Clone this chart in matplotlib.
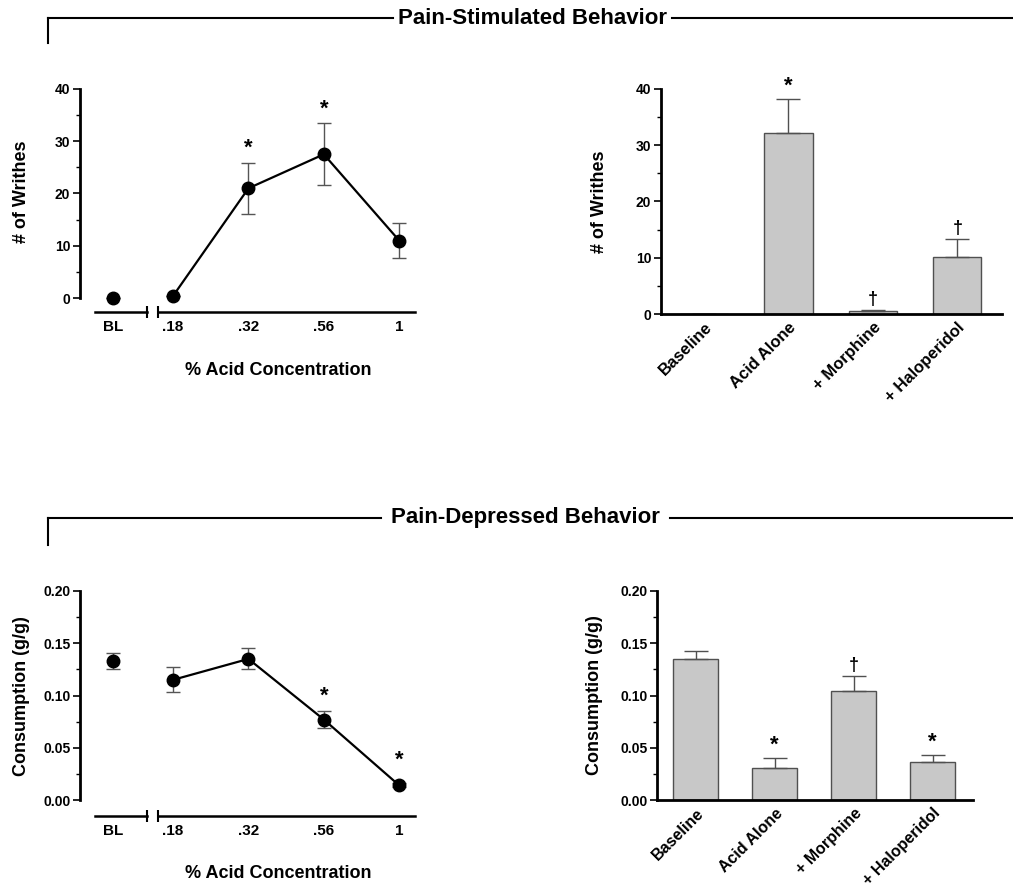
import matplotlib.pyplot as plt
from matplotlib.lines import Line2D
from matplotlib.ticker import MultipleLocator

plt.rcParams['font.family'] = ['Liberation Sans', 'DejaVu Sans']
plt.rcParams['font.weight'] = 'bold'

# dose-effect data (x position index for each concentration)
conc_labels = ['BL', '.18', '.32', '.56', '1']
conc_pos = [-0.8, 0, 1, 2, 3]

writhes = [0.0, 0.4, 21.0, 27.5, 11.0]
writhes_err = [0.0, 0.0, 4.9, 5.9, 3.4]
writhes_star = [False, False, True, True, False]

consumption = [0.133, 0.115, 0.135, 0.077, 0.014]
consumption_err = [0.008, 0.012, 0.010, 0.008, 0.002]
consumption_star = [False, False, False, True, True]

# treatment bar data
groups = ['Baseline', 'Acid Alone', '+ Morphine', '+ Haloperidol']
bar_writhes = [0.0, 32.2, 0.5, 10.1]
bar_writhes_err = [0.0, 6.1, 0.2, 3.2]
bar_writhes_mark = ['', '*', '\u2020', '\u2020']
bar_cons = [0.135, 0.031, 0.104, 0.036]
bar_cons_err = [0.008, 0.009, 0.015, 0.007]
bar_cons_mark = ['', '*', '\u2020', '*']

W, H = 1013, 891
fig = plt.figure(figsize=(W / 100, H / 100), dpi=100)


def style_y(ax, step, minor):
    ax.spines['top'].set_visible(False)
    ax.spines['right'].set_visible(False)
    ax.spines['left'].set_linewidth(2)
    ax.yaxis.set_major_locator(MultipleLocator(step))
    ax.yaxis.set_minor_locator(MultipleLocator(minor))
    ax.tick_params(axis='y', which='major', length=5, width=1.2, labelsize=10, pad=2)
    ax.tick_params(axis='y', which='minor', length=3, width=1)
    for t in ax.get_yticklabels():
        t.set_fontweight('bold')


def dose_panel(rect, vals, errs, stars, ymax, step, minor, ylabel, off,
               ylab_pos, xlab_pos):
    ax = fig.add_axes(rect)
    ax.set_xlim(-1.235, 3.21)
    ax.set_ylim(-off, ymax)
    style_y(ax, step, minor)
    ax.spines['bottom'].set_visible(False)
    ax.spines['left'].set_bounds(0, ymax)
    ax.set_xticks(conc_pos)
    ax.set_xticklabels(conc_labels, fontsize=11, fontweight='bold')
    ax.tick_params(axis='x', length=0, pad=6)
    # broken x axis
    yb = -off
    ax.plot([-1.035, -0.345], [yb, yb], color='black', lw=1.8, clip_on=False)
    ax.plot([-0.2, 3.21], [yb, yb], color='black', lw=1.8, clip_on=False)
    ax.plot([-0.345, -0.2], [yb, yb], ls='none', marker='|', ms=8, mew=1.5,
            color='black', clip_on=False)
    # baseline point alone, then connected points
    ax.errorbar(conc_pos[:1], vals[:1], yerr=errs[:1], fmt='o', color='black',
                ms=9, ecolor='#555555', elinewidth=1, capsize=5, clip_on=False)
    ax.errorbar(conc_pos[1:], vals[1:], yerr=errs[1:], fmt='-o', color='black',
                lw=1.6, ms=9, ecolor='#555555', elinewidth=1, capsize=5,
                clip_on=False)
    for x, v, e, s in zip(conc_pos, vals, errs, stars):
        if s:
            top = v + e if e > ymax * 0.02 else v + ymax * 0.05
            ax.text(x, top + ymax * 0.02, '*', ha='center', va='bottom',
                    fontsize=16, fontweight='bold')
    ax.set_ylabel(ylabel, fontsize=13, fontweight='bold')
    ax.yaxis.set_label_coords(*ylab_pos)
    ax.set_xlabel('% Acid Concentration', fontsize=13, fontweight='bold')
    ax.xaxis.set_label_coords(*xlab_pos)
    return ax


def bar_panel(rect, vals, errs, marks, ymax, step, minor, ylabel, xlim,
              ylab_pos, lab_size):
    ax = fig.add_axes(rect)
    xs = list(range(len(groups)))
    ax.bar(xs, vals, width=0.57, color='#c8c8c8', edgecolor='#505050', lw=1)
    ax.errorbar(xs, vals, yerr=[[0] * len(errs), errs], fmt='none',
                ecolor='#505050', elinewidth=1, capsize=8.5)
    for x, v, e, m in zip(xs, vals, errs, marks):
        if m:
            ax.text(x, v + e + ymax * 0.01, m, ha='center', va='bottom',
                    fontsize=16 if m == '*' else 13, fontweight='bold')
    ax.set_xlim(*xlim)
    ax.set_ylim(0, ymax)
    style_y(ax, step, minor)
    ax.spines['bottom'].set_linewidth(2)
    ax.set_xticks(xs)
    ax.set_xticklabels(groups, rotation=45, ha='right', rotation_mode='anchor',
                       fontsize=lab_size, fontweight='bold')
    ax.tick_params(axis='x', length=0, pad=4)
    ax.set_ylabel(ylabel, fontsize=13, fontweight='bold')
    ax.yaxis.set_label_coords(*ylab_pos)
    return ax


# rects in pixels: left, axis-line y, width, height
dose_panel([80 / W, 1 - 312 / H, 335 / W, 223 / H], writhes, writhes_err,
           writhes_star, 40, 10, 5, '# of Writhes', 40 * 14 / 209,
           ((30 - 80) / 335, 0.538), ((278 - 80) / 335, (312 - 362) / 223))
bar_panel([661 / W, 1 - 314 / H, 341 / W, 225 / H], bar_writhes,
          bar_writhes_err, bar_writhes_mark, 40, 10, 5, '# of Writhes',
          (-0.51, 3.53), ((608 - 661) / 341, 0.5), 12)
dose_panel([80 / W, 1 - 816 / H, 335 / W, 225 / H], consumption,
           consumption_err, consumption_star, 0.20, 0.05, 0.025,
           'Consumption (g/g)', 0.2 * 16 / 209,
           ((30 - 80) / 335, 0.535), ((278 - 80) / 335, (816 - 865) / 225))
ax4 = bar_panel([657 / W, 1 - 800 / H, 316 / W, 209 / H], bar_cons,
                bar_cons_err, bar_cons_mark, 0.20, 0.05, 0.025,
                'Consumption (g/g)', (-0.49, 3.51), ((603 - 657) / 316, 0.5),
                11.5)
ax4.yaxis.set_major_formatter(plt.FormatStrFormatter('%.2f'))

# section headers
for title, y, x0, x1, vend in [('Pain-Stimulated Behavior', 18, 393, 672, 43),
                               ('Pain-Depressed Behavior', 518, 381, 670, 545)]:
    fig.add_artist(Line2D([48 / W, x0 / W], [1 - y / H] * 2, color='black', lw=1.5))
    fig.add_artist(Line2D([x1 / W, 1.0], [1 - y / H] * 2, color='black', lw=1.5))
    fig.add_artist(Line2D([48 / W] * 2, [1 - y / H, 1 - vend / H], color='black', lw=1.5))
    fig.text((x0 + x1) / 2 / W, 1 - y / H, title, ha='center', va='center',
             fontsize=16, fontweight='bold')

fig.savefig('out.png', dpi=100)
